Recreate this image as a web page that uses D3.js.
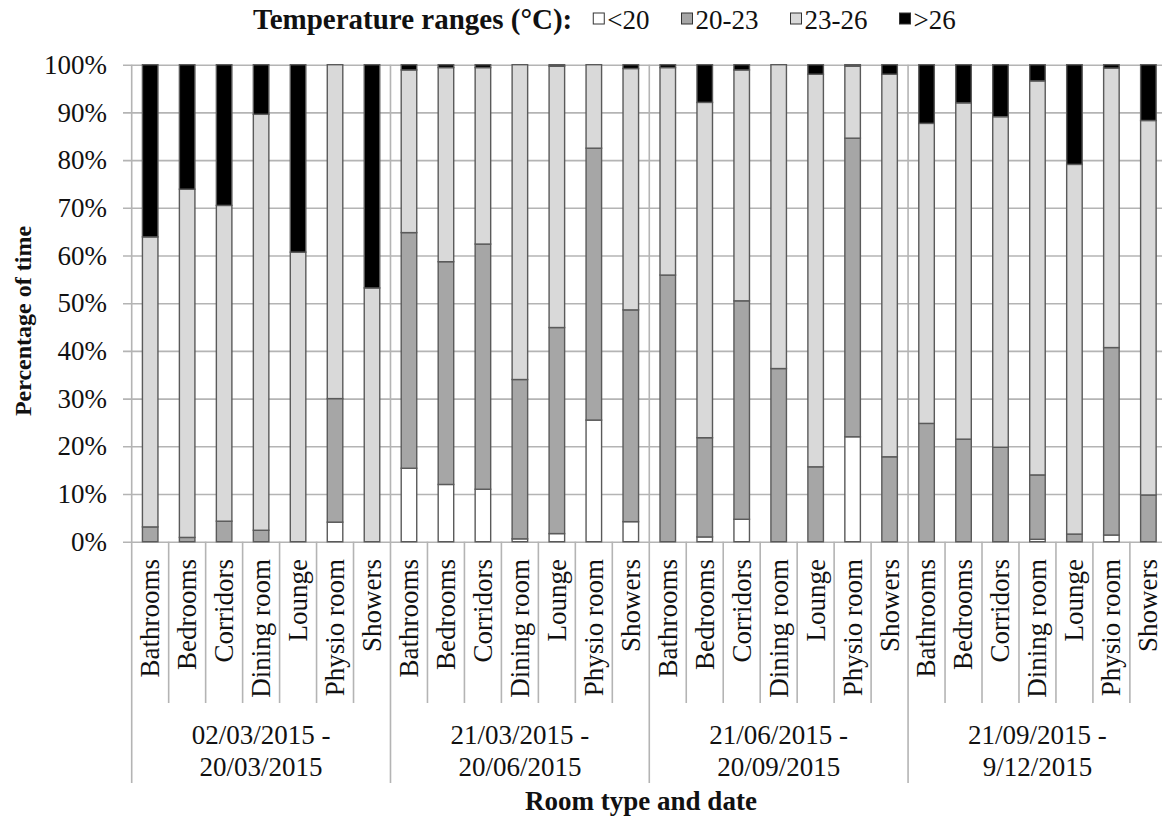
<!DOCTYPE html>
<html>
<head>
<meta charset="utf-8">
<script src="https://cdn.jsdelivr.net/npm/d3@7/dist/d3.min.js"></script>
<style>
  html, body { margin: 0; padding: 0; background: #fff; }
  svg { display: block; }
  text { font-family: "Liberation Serif", "Times New Roman", serif; fill: #111; }
</style>
</head>
<body>
<svg id="chart" width="1162" height="820"></svg>
<script>
// ---------- data ----------
const rooms = ["Bathrooms", "Bedrooms", "Corridors", "Dining room", "Lounge", "Physio room", "Showers"];
const periods = [
  ["02/03/2015 -", "20/03/2015"],
  ["21/03/2015 -", "20/06/2015"],
  ["21/06/2015 -", "20/09/2015"],
  ["21/09/2015 -", "9/12/2015"]
];
const seriesNames = ["<20", "20-23", "23-26", ">26"];
const below20 = [0, 0, 0, 0, 0, 4.1, 0,
                 15.4, 12.0, 11.0, 0.6, 1.7, 25.5, 4.2,
                 0, 1.0, 4.7, 0, 0, 22.0, 0,
                 0, 0, 0, 0.5, 0, 1.4, 0];
const range20to23 = [3.1, 0.9, 4.3, 2.4, 0, 25.9, 0,
                     49.4, 46.7, 51.4, 33.4, 43.2, 57.0, 44.4,
                     55.9, 20.8, 45.8, 36.3, 15.7, 62.6, 17.8,
                     24.8, 21.5, 19.8, 13.5, 1.6, 39.3, 9.8];
const range23to26 = [60.8, 73.0, 66.2, 87.2, 60.7, 70.0, 53.2,
                     34.1, 40.7, 37.0, 66.0, 54.8, 17.5, 50.6,
                     43.5, 70.3, 48.4, 63.7, 82.3, 15.1, 80.2,
                     62.9, 70.5, 69.3, 82.6, 77.5, 58.6, 78.5];
const above26 = [36.1, 26.1, 29.5, 10.4, 39.3, 0, 46.8,
                 1.1, 0.6, 0.6, 0, 0.3, 0, 0.8,
                 0.6, 7.9, 1.1, 0, 2.0, 0.3, 2.0,
                 12.3, 8.0, 10.9, 3.4, 20.9, 0.7, 11.7];
const yTicks = [0, 10, 20, 30, 40, 50, 60, 70, 80, 90, 100];

// ---------- layout ----------
const colors = ["#ffffff", "#a6a6a6", "#d9d9d9", "#000000"];
const svg = d3.select("#chart");
const xLeft = 131.7, step = 36.97;
const nCat = rooms.length * periods.length;
const xRight = xLeft + nCat * step;
const yTop = 64.7, yBottom = 541.7;
const gridStart = 123;

const rows = [];
periods.forEach((p, gi) => rooms.forEach((r, ri) => {
  const i = gi * rooms.length + ri;
  rows.push({ idx: i, room: r, group: gi,
    "<20": below20[i], "20-23": range20to23[i], "23-26": range23to26[i], ">26": above26[i] });
}));

const x = d3.scaleBand().domain(rows.map(d => d.idx)).range([xLeft, xRight])
  .paddingInner(0.58).paddingOuter(0.29);
const y = d3.scaleLinear().domain([0, 100]).range([yBottom, yTop]);

const fs = 27;

// gridlines + y labels
const yAxis = d3.axisLeft(y).tickValues(yTicks).tickFormat(d => d + "%")
  .tickSizeInner(-(xRight - gridStart)).tickSizeOuter(0).tickPadding(16);
const gy = svg.append("g").attr("transform", `translate(${gridStart},0)`).call(yAxis);
gy.select(".domain").remove();
gy.selectAll(".tick line").attr("stroke", "#b4b4b4").attr("stroke-width", 1.6);
gy.selectAll(".tick text").attr("font-size", fs).attr("font-family", "Liberation Serif").attr("fill", "#111");

// category separators (incl. vertical axis)
const boundaries = d3.range(nCat + 1);
svg.append("g").selectAll("line").data(boundaries).join("line")
  .attr("x1", i => xLeft + i * step).attr("x2", i => xLeft + i * step)
  .attr("y1", i => (i % rooms.length === 0) ? yTop : yBottom)
  .attr("y2", i => (i % rooms.length === 0) ? 783 : 703)
  .attr("stroke", "#b4b4b4").attr("stroke-width", 1.6);

// stacked bars
const stack = d3.stack().keys(seriesNames);
const layers = stack(rows);
svg.append("g").selectAll("g").data(layers).join("g")
  .attr("fill", (d, i) => colors[i])
  .selectAll("rect").data(d => d.filter(s => s[1] - s[0] > 0)).join("rect")
  .attr("x", d => x(d.data.idx))
  .attr("width", x.bandwidth())
  .attr("y", d => y(d[1]))
  .attr("height", d => y(d[0]) - y(d[1]))
  .attr("stroke", "#5a5a5a").attr("stroke-width", 1.4);

// category labels
svg.append("g").selectAll("text").data(rows).join("text")
  .attr("transform", d => `translate(${x(d.idx) + x.bandwidth() / 2},559) rotate(-90)`)
  .attr("text-anchor", "end").attr("dy", "0.33em")
  .attr("font-size", fs).text(d => d.room);

// group labels
const gl = svg.append("g").selectAll("text").data(periods).join("text")
  .attr("text-anchor", "middle").attr("font-size", fs)
  .attr("transform", (d, i) => `translate(${xLeft + (i * rooms.length + rooms.length / 2) * step},0)`);
gl.append("tspan").attr("x", 0).attr("y", 744).text(d => d[0]);
gl.append("tspan").attr("x", 0).attr("y", 776).text(d => d[1]);

// axis titles
svg.append("text").attr("x", 641).attr("y", 810).attr("text-anchor", "middle")
  .attr("font-size", 27).attr("font-weight", "bold").text("Room type and date");
svg.append("text").attr("transform", "translate(31,321) rotate(-90)").attr("text-anchor", "middle")
  .attr("font-size", 24).attr("font-weight", "bold").text("Percentage of time");

// legend
const leg = svg.append("g");
const title = leg.append("text").attr("x", 253).attr("y", 29).attr("font-size", 29)
  .attr("font-weight", "bold").text("Temperature ranges (°C):");
let cx = 253 + title.node().getComputedTextLength() + 21;
seriesNames.forEach((s, i) => {
  leg.append("rect").attr("x", cx).attr("y", 13).attr("width", 11).attr("height", 11)
    .attr("fill", colors[i]).attr("stroke", "#333").attr("stroke-width", 1);
  const t = leg.append("text").attr("x", cx + 14).attr("y", 29).attr("font-size", fs).text(s);
  cx += 14 + t.node().getComputedTextLength() + 32;
});
</script>
</body>
</html>
